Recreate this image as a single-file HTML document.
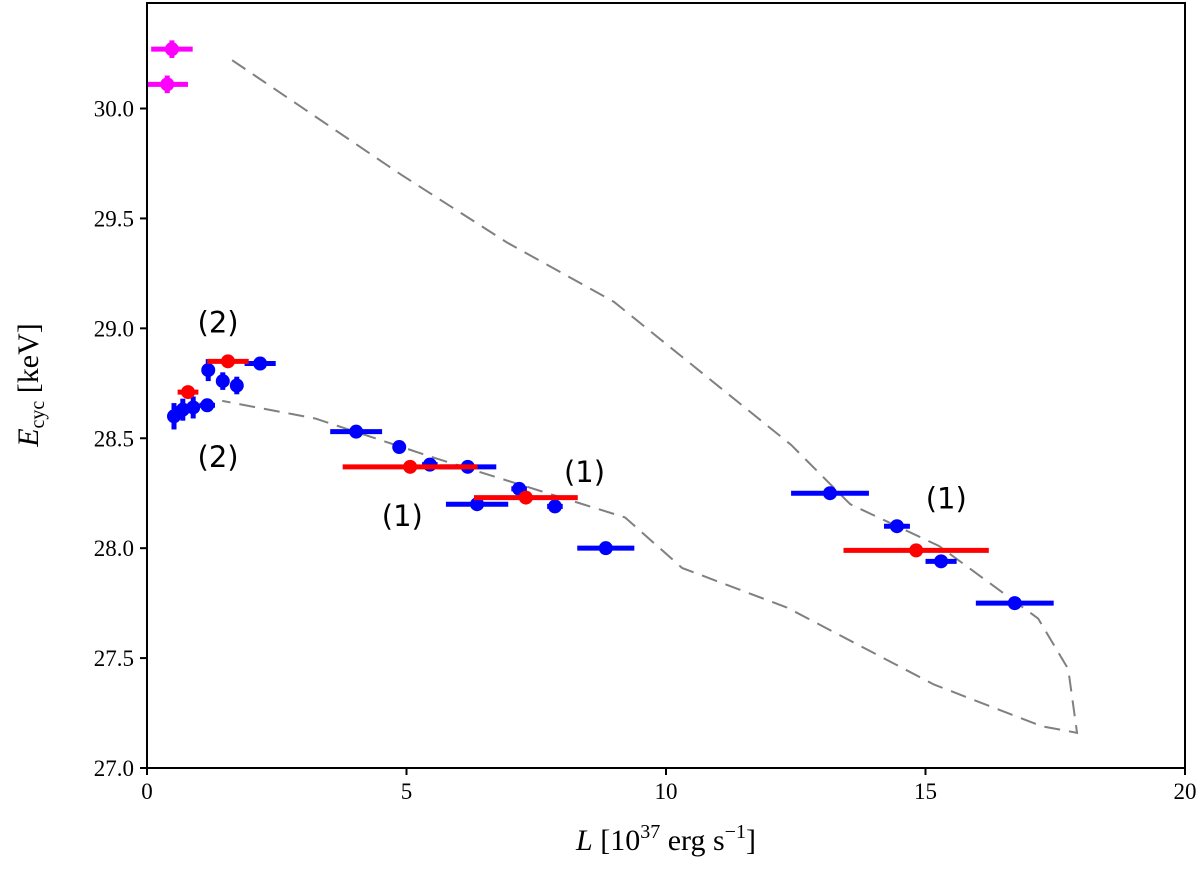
<!DOCTYPE html>
<html><head><meta charset="utf-8"><style>
body{margin:0;background:#fff}
svg text{font-family:"Liberation Serif",serif;fill:#000}
</style></head><body>
<svg width="1200" height="877" id="c" style="position:absolute;left:0;top:0">
<g id="plot"></g>
</svg>
<script>
const xTicks=[0,5,10,15,20];
const yTicks=[27.0,27.5,28.0,28.5,29.0,29.5,30.0];
const blueX=[0.52,0.69,0.89,1.16,1.18,1.46,1.73,2.18,4.03,4.86,5.45,6.18,7.17,6.36,7.86,8.84,13.16,14.45,15.30,16.72];
const blueY=[28.60,28.63,28.64,28.65,28.81,28.76,28.74,28.84,28.53,28.46,28.38,28.37,28.27,28.20,28.19,28.00,28.25,28.10,27.94,27.75];
const blueXErr=[0.1,0.1,0.1,0.15,0.05,0.05,0.05,0.3,0.5,0.1,0.15,0.55,0.15,0.6,0.15,0.55,0.75,0.25,0.3,0.75];
const blueYErr=[0.06,0.05,0.05,0.03,0.05,0.04,0.04,0.03,0.01,0.01,0.01,0.01,0.01,0.01,0.01,0.01,0.01,0.01,0.01,0.01];
const redX=[0.79,1.56,5.07,7.30,14.82];
const redY=[28.71,28.85,28.37,28.23,27.99];
const redXErr=[0.2,0.4,1.3,1.0,1.4];
const magX=[0.48,0.39];
const magY=[30.27,30.11];
const magXErr=[0.4,0.4];
const magYErr=[0.04,0.04];
const lineX=[1.64,4.89,6.94,9.0,12.41,13.55,15.26,17.17,17.75,17.92,17.24,15.16,12.33,10.31,9.21,5.55,3.24,1.45];
const lineY=[30.22,29.70,29.39,29.12,28.47,28.20,28.01,27.68,27.45,27.16,27.19,27.38,27.73,27.91,28.14,28.41,28.59,28.67];
const notes=[["(2)",1.37,28.98],["(2)",1.37,28.37],["(1)",4.92,28.10],["(1)",8.43,28.30],["(1)",15.40,28.18]];

const L=147,R=1185,T=3,B=768;
const X=v=>L+(v-0)/20*(R-L);
const Y=v=>B-(v-27)/(30.48-27)*(B-T);
const NS="http://www.w3.org/2000/svg";
const g=document.getElementById('plot');
function el(t,a,p){const e=document.createElementNS(NS,t);for(const k in a)e.setAttribute(k,a[k]);(p||g).appendChild(e);return e;}

let d=lineX.map((x,i)=>(i?'L':'M')+X(x)+','+Y(lineY[i])).join('');
const ln=el('path',{d:d,fill:'none',stroke:'#808080','stroke-width':2,'stroke-dasharray':'16,9'});



function pts(xs,ys,xe,ye,col,name){
  xs.forEach((x,i)=>{
    const gg=el('g',{});
    
    
    el('line',{x1:X(x-xe[i]),x2:X(x+xe[i]),y1:Y(ys[i]),y2:Y(ys[i]),stroke:col,'stroke-width':5},gg);
    const e=ye?ye[i]:0;
    if(e) el('line',{x1:X(x),x2:X(x),y1:Y(ys[i]-e),y2:Y(ys[i]+e),stroke:col,'stroke-width':5},gg);
    el('circle',{cx:X(x),cy:Y(ys[i]),r:7,fill:col},gg);
  });
}
pts(blueX,blueY,blueXErr,blueYErr,'#0000ff','blue-point');
pts(redX,redY,redXErr,null,'#ff0000','red-point');
pts(magX,magY,magXErr,magYErr,'#ff00ff','magenta-point');

notes.forEach(n=>{
  const t=el('text',{x:X(n[1]),y:Y(n[2]),'text-anchor':'middle','font-size':29});
  t.setAttribute('style','font-family:"DejaVu Sans",sans-serif');
  t.textContent=n[0];
  
  
});

const fr=el('rect',{x:L,y:T,width:R-L,height:B-T,fill:'none',stroke:'#000','stroke-width':2});



xTicks.forEach(v=>{
  el('line',{x1:X(v),x2:X(v),y1:B,y2:B+7,stroke:'#000','stroke-width':2});
  const t=el('text',{x:X(v),y:B+31,'text-anchor':'middle','font-size':23});
  t.textContent=v;
  
  
});
yTicks.forEach(v=>{
  el('line',{x1:L-7,x2:L,y1:Y(v),y2:Y(v),stroke:'#000','stroke-width':2});
  const t=el('text',{x:L-13,y:Y(v)+8,'text-anchor':'end','font-size':23});
  t.textContent=v.toFixed(1);
  
  
});
</script>
<svg width="1200" height="877" style="position:absolute;left:0;top:0">
<text x="666" y="850" text-anchor="middle" font-size="30"><tspan font-style="italic">L</tspan> [10<tspan font-size="20" dy="-12">37</tspan><tspan dy="12"> erg s</tspan><tspan font-size="20" dy="-12">−1</tspan><tspan dy="12">]</tspan></text>
<text transform="translate(38,385) rotate(-90)" text-anchor="middle" font-size="30"><tspan font-style="italic">E</tspan><tspan font-size="20" dy="6">cyc</tspan><tspan dy="-6"> [keV]</tspan></text>
</svg>
</body></html>
